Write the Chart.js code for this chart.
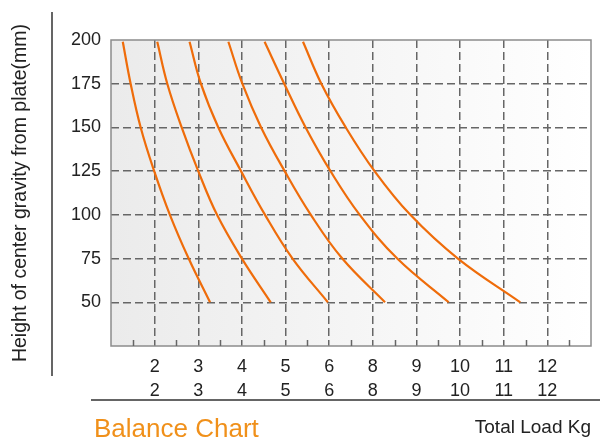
<!DOCTYPE html>
<html>
<head>
<meta charset="utf-8">
<script src="https://cdn.jsdelivr.net/npm/chart.js@4/dist/chart.umd.min.js"></script>
<style>
  html, body { margin: 0; padding: 0; background: #fff; }
  #wrap { width: 600px; height: 439px; position: relative; }
</style>
</head>
<body>
<div id="wrap"><canvas id="balance"></canvas></div>
<script>
// heights (mm) where each curve was read
var heights = [199, 175, 150, 125, 100, 75, 50];

// x positions of each curve, in axis steps (1 = first load column "2")
var curve1 = [0.27, 0.45, 0.68, 0.99, 1.35, 1.78, 2.27];
var curve2 = [1.06, 1.29, 1.62, 2.00, 2.43, 3.00, 3.66];
var curve3 = [1.80, 2.06, 2.46, 2.98, 3.53, 4.16, 4.97];
var curve4 = [2.69, 3.01, 3.44, 3.98, 4.58, 5.30, 6.28];
var curve5 = [3.52, 3.97, 4.46, 5.03, 5.70, 6.56, 7.74];
var curve6 = [4.40, 4.82, 5.38, 6.04, 6.86, 7.95, 9.38];

// load tick labels, two rows
var loadRow1 = ['2', '3', '4', '5', '6', '8', '9', '10', '11', '12'];
var loadRow2 = ['2', '3', '4', '5', '6', '8', '9', '10', '11', '12'];

var curves = [curve1, curve2, curve3, curve4, curve5, curve6];
var orange = '#ef6c0a';
var font = '"Liberation Sans", Arial, sans-serif';

function toPoints(xs) {
  return xs.map(function(x, i) { return { x: x, y: heights[i] }; });
}

var datasets = curves.map(function(c) {
  return {
    data: toPoints(c),
    borderColor: orange,
    borderWidth: 2.2,
    pointRadius: 0,
    fill: false,
    tension: 0.4
  };
});

// background, frame, minor ticks and the extra labels/lines
var decor = {
  id: 'decor',
  beforeDraw: function(chart) {
    var a = chart.chartArea, ctx = chart.ctx;
    var g = ctx.createLinearGradient(a.left, 0, a.right, 0);
    g.addColorStop(0, '#ebebeb');
    g.addColorStop(1, '#ffffff');
    ctx.save();
    ctx.fillStyle = g;
    ctx.fillRect(a.left, a.top, a.right - a.left, a.bottom - a.top);
    ctx.restore();
  },
  beforeDatasetsDraw: function(chart) {
    var a = chart.chartArea, ctx = chart.ctx, xs = chart.scales.x;
    ctx.save();
    ctx.strokeStyle = '#8c8c8c';
    ctx.lineWidth = 1.5;
    ctx.strokeRect(a.left, a.top, a.right - a.left, a.bottom - a.top);
    // small ticks between the columns
    ctx.strokeStyle = '#666';
    for (var v = 0.5; v < xs.max; v += 1) {
      var px = Math.round(xs.getPixelForValue(v)) + 0.5;
      ctx.beginPath();
      ctx.moveTo(px, a.bottom);
      ctx.lineTo(px, a.bottom - 6);
      ctx.stroke();
    }
    ctx.restore();
  },
  afterDraw: function(chart) {
    var ctx = chart.ctx;
    ctx.save();
    ctx.strokeStyle = '#333';
    ctx.lineWidth = 1.5;
    ctx.beginPath();
    ctx.moveTo(52, 12);
    ctx.lineTo(52, 376);
    ctx.moveTo(91, 400);
    ctx.lineTo(600, 400);
    ctx.stroke();
    ctx.fillStyle = '#f0901a';
    ctx.font = '26px ' + font;
    ctx.textBaseline = 'middle';
    ctx.textAlign = 'left';
    ctx.fillText('Balance Chart', 94, 430);
    ctx.restore();
  }
};

new Chart(document.getElementById('balance'), {
  type: 'line',
  data: { datasets: datasets },
  plugins: [decor],
  options: {
    responsive: true,
    maintainAspectRatio: false,
    animation: false,
    layout: { padding: { top: 40, right: 7, left: 1, bottom: 0 } },
    plugins: { legend: { display: false }, tooltip: { enabled: false } },
    scales: {
      x: {
        type: 'linear',
        min: 0,
        max: 11,
        afterFit: function(s) { s.height = 93; },
        grid: {
          drawTicks: false,
          lineWidth: 1.5,
          color: function(c) {
            return (c.tick && (c.tick.value === 0 || c.tick.value === 11)) ? 'rgba(0,0,0,0)' : '#666';
          }
        },
        border: { display: false, dash: [8, 4] },
        ticks: {
          stepSize: 1,
          autoSkip: false,
          maxRotation: 0,
          padding: 9,
          color: '#222',
          font: { family: font, size: 18, lineHeight: 1.35 },
          callback: function(v) {
            var i = v - 1;
            if (i < 0 || i >= loadRow1.length) return '';
            return [loadRow1[i], loadRow2[i]];
          }
        },
        title: {
          display: true,
          text: 'Total Load Kg',
          align: 'end',
          color: '#222',
          padding: { top: 0, bottom: 0 },
          font: { family: font, size: 19 }
        }
      },
      y: {
        min: 25,
        max: 200,
        afterFit: function(s) { s.width = 110; },
        border: { display: false, dash: [8, 4] },
        grid: {
          drawTicks: false,
          lineWidth: 1.5,
          color: function(c) {
            return (c.tick && (c.tick.value === 25 || c.tick.value === 200)) ? 'rgba(0,0,0,0)' : '#666';
          }
        },
        ticks: {
          stepSize: 25,
          padding: 10,
          color: '#222',
          font: { family: font, size: 18 },
          callback: function(v) { return v === 25 ? '' : v; }
        },
        title: {
          display: true,
          text: 'Height of center gravity from plate(mm)',
          color: '#222',
          padding: { top: 8, bottom: 0 },
          font: { family: font, size: 19.5 }
        }
      }
    }
  }
});
</script>
</body>
</html>
